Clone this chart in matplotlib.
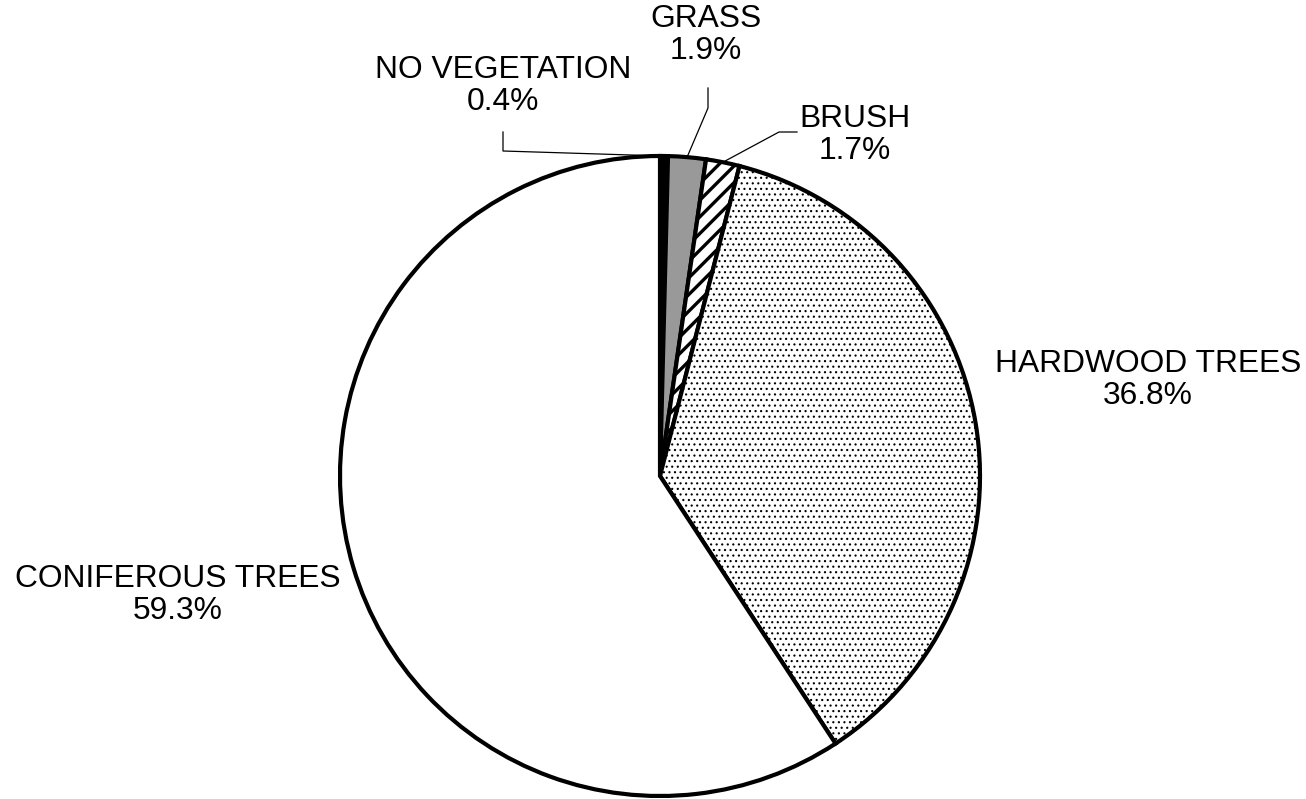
import numpy as np
import matplotlib
matplotlib.use("Agg")
import matplotlib.pyplot as plt

plt.rcParams['font.family'] = ['Liberation Sans', 'DejaVu Sans']
plt.rcParams['hatch.color'] = 'black'

# Land cover shares (percent), clockwise from 12 o'clock
categories = ["NO VEGETATION", "GRASS", "BRUSH", "HARDWOOD TREES", "CONIFEROUS TREES"]
shares = [0.4, 1.9, 1.7, 36.8, 59.3]

fills = ["black", "#999999", "white", "white", "white"]
hatches = [None, None, "//", "...", None]

W, H = 1306, 799
fig = plt.figure(figsize=(W / 100, H / 100), dpi=100)
ax = fig.add_axes([0, 0, 1, 1])

cx, cy, r = 660, H - 476, 320

wedges, _ = ax.pie(shares, colors=fills, startangle=90, counterclock=False,
                   radius=r, center=(cx, cy), normalize=True,
                   wedgeprops=dict(edgecolor='black', linewidth=3.0))
for w, h in zip(wedges, hatches):
    if h:
        w.set_hatch(h)
        if h.startswith('/'):
            w.set_hatch_linewidth(2.4)
        else:
            w.set_hatch_linewidth(0.8)

# pie() resets the limits, so fix the pixel-sized canvas afterwards
ax.set_xlim(0, W)
ax.set_ylim(0, H)
ax.set_aspect('equal')
ax.set_axis_off()

fs = 22.9
label_pos = {
    "NO VEGETATION": (503, H - 86),
    "GRASS": (706, H - 35),
    "BRUSH": (855, H - 135),
    "HARDWOOD TREES": (1148, H - 380),
    "CONIFEROUS TREES": (178, H - 595),
}
for name, val in zip(categories, shares):
    x, y = label_pos[name]
    ax.text(x, y, f"{name}\n{val:.1f}%", ha='center', va='center',
            fontsize=fs, linespacing=1.12)


def edge_point(w):
    a = np.deg2rad((w.theta1 + w.theta2) / 2)
    return cx + r * np.cos(a), cy + r * np.sin(a)


# leader lines for the thin slices
ex, ey = edge_point(wedges[0])
ax.plot([503, 503, ex], [H - 132, H - 151, ey], color='black', lw=0.9)
ex, ey = edge_point(wedges[1])
ax.plot([708, 708, ex], [H - 88, H - 108, ey], color='black', lw=0.9)
ex, ey = edge_point(wedges[2])
ax.plot([797, 779, ex], [H - 132, H - 132, ey], color='black', lw=0.9)

fig.savefig("out.png", dpi=100)
